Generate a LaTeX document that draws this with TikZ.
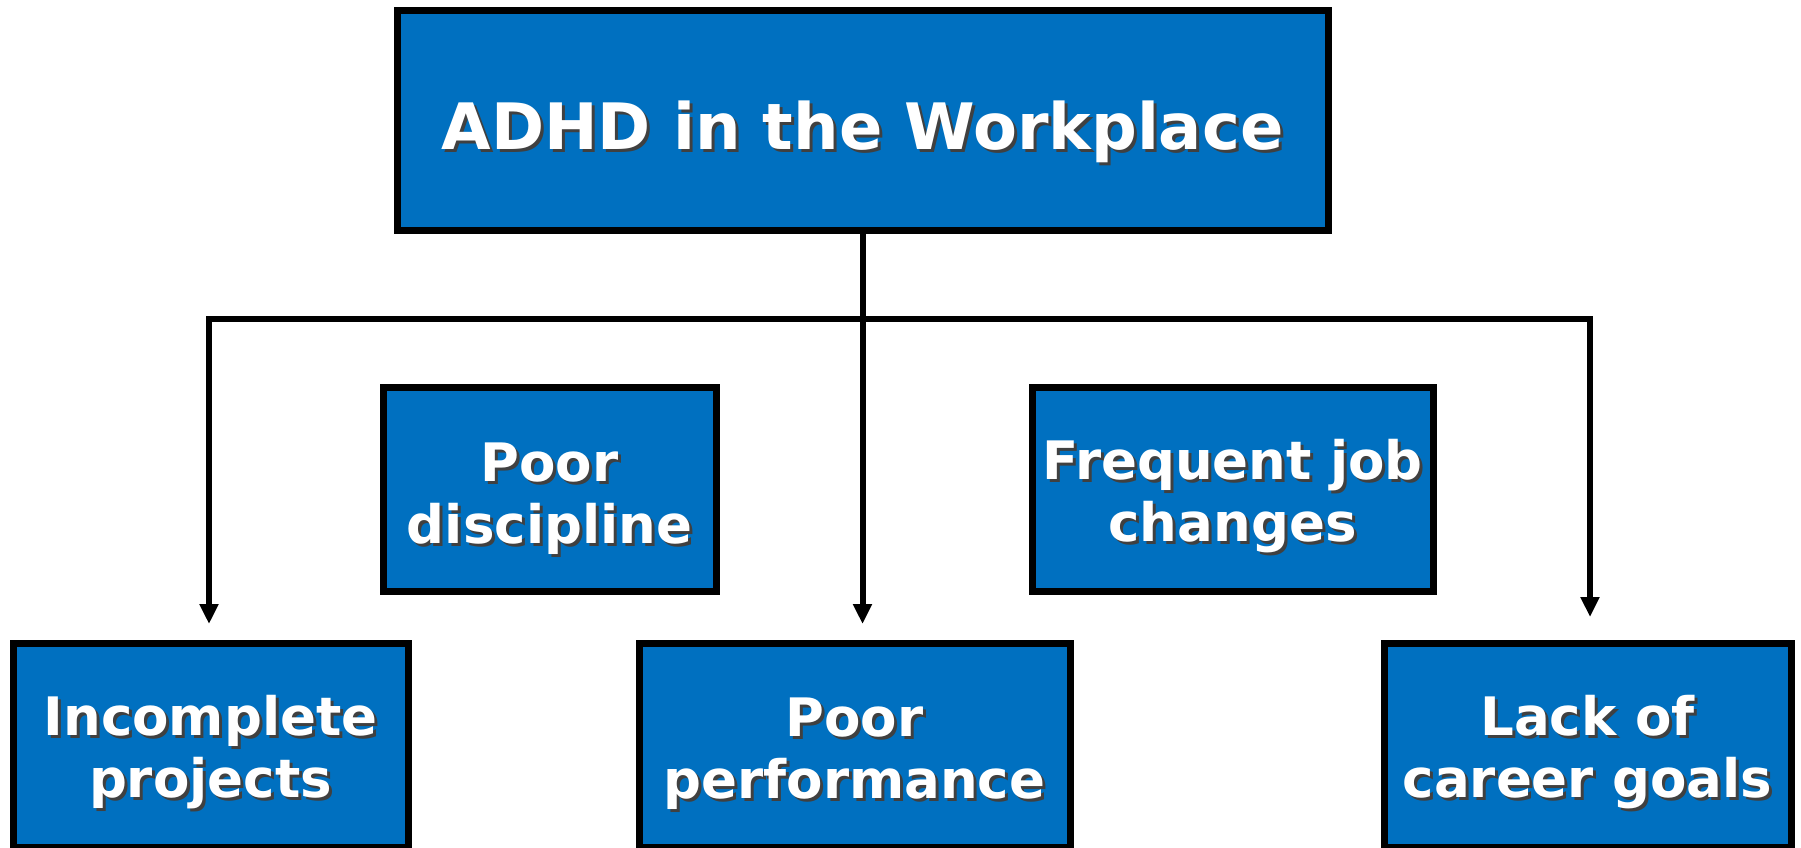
\documentclass[tikz,border=0pt]{standalone}
\usepackage{fontspec}
\setmainfont{DejaVu Sans}
\usetikzlibrary{arrows.meta}
\definecolor{boxblue}{RGB}{0,112,192}
\newcommand\shd[1]{\leavevmode\rlap{\kern3pt\raisebox{-3pt}{\color{black!75}#1}}#1}
\tikzset{
  box/.style={draw=black, line width=7pt, fill=boxblue, text=white, align=center,
    font=\bfseries\fontsize{53}{62}\selectfont, inner sep=0pt, minimum height=204pt,
    text height=104pt, text depth=0pt},
  conn/.style={line width=6pt, draw=black},
  arr/.style={conn, -{Triangle[length=20pt,width=18pt]}}
}
\begin{document}
\begin{tikzpicture}[x=1pt,y=-1pt]
\useasboundingbox (0,0) rectangle (1801,848);
\clip (0,0) rectangle (1801,848);
\node[box, minimum width=931pt, minimum height=219pt, text height=58pt, font=\bfseries\fontsize{64}{70}\selectfont] (top) at (862.5,120.5) {\shd{ADHD in the Workplace}};
\node[box, minimum width=333pt, text height=108pt] (disc) at (549.5,489) {\shd{Poor}\\\shd{discipline}};
\node[box, minimum width=401pt] (freq) at (1232.5,489) {\shd{Frequent job}\\\shd{changes}};
\node[box, minimum width=395pt] (inc) at (210.5,745) {\shd{Incomplete}\\\shd{projects}};
\node[box, minimum width=431pt, text height=106pt] (perf) at (854.5,745) {\shd{Poor}\\\shd{performance}};
\node[box, minimum width=407pt] (lack) at (1587.5,745) {\shd{Lack of}\\\shd{career goals}};
\coordinate (bar) at (862.5,319);
\coordinate (barL) at (206,319);
\coordinate (barR) at (1593,319);
\coordinate (aL) at (209,624);
\coordinate (aM) at (862.5,624);
\coordinate (aR) at (1590,617);
\draw[conn] (top.south) -- (bar);
\draw[conn] (barL) -- (barR);
\draw[arr] (aL |- bar) -- (aL);
\draw[arr] (bar) -- (aM);
\draw[arr] (aR |- bar) -- (aR);
\end{tikzpicture}
\end{document}
